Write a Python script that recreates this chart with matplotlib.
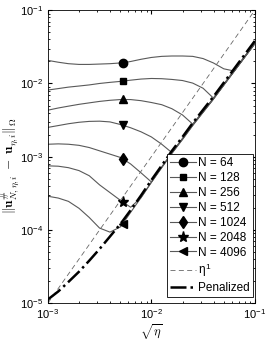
import numpy as np
import matplotlib
matplotlib.use('Agg')
import matplotlib.pyplot as plt

plt.rcParams['font.family'] = ['Liberation Sans', 'DejaVu Sans']
plt.rcParams['mathtext.fontset'] = 'cm'

# sqrt(eta) sample positions (log axis); index 8 is where the markers sit
sqrt_eta = [1.0e-3, 1.26e-3, 1.58e-3, 2.0e-3, 2.51e-3, 3.16e-3, 3.98e-3, 5.01e-3,
            5.27e-3, 6.31e-3, 7.94e-3, 1.0e-2, 1.26e-2, 1.58e-2, 2.0e-2, 2.51e-2,
            3.16e-2, 3.98e-2, 5.01e-2, 6.31e-2, 7.94e-2, 1.0e-1]
mark_idx = 8

# errors, stored as decade exponents (log10 of the error)
exp_64 = [-1.685, -1.71, -1.73, -1.74, -1.74, -1.735, -1.73, -1.72, -1.718, -1.70, -1.67,
          -1.645, -1.63, -1.625, -1.625, -1.63, -1.66, -1.72, -1.80, -1.83, -1.645, -1.455]
exp_128 = [-2.09, -2.07, -2.05, -2.035, -2.02, -2.00, -1.985, -1.972, -1.969, -1.955, -1.94,
           -1.932, -1.935, -1.945, -1.96, -1.995, -2.065, -2.20, -2.02, -1.83, -1.64, -1.45]
exp_256 = [-2.365, -2.335, -2.31, -2.285, -2.265, -2.245, -2.23, -2.22, -2.219, -2.22, -2.235,
           -2.26, -2.29, -2.345, -2.43, -2.555, -2.39, -2.21, -2.02, -1.835, -1.645, -1.46]
exp_512 = [-2.60, -2.575, -2.55, -2.53, -2.518, -2.515, -2.525, -2.56, -2.57, -2.605, -2.66,
           -2.73, -2.83, -2.945, -2.75, -2.56, -2.38, -2.20, -2.01, -1.82, -1.635, -1.45]
exp_1024 = [-2.83, -2.825, -2.83, -2.845, -2.875, -2.92, -2.965, -3.01, -3.027, -3.10, -3.22,
            -3.345, -3.14, -2.945, -2.755, -2.565, -2.385, -2.205, -2.015, -1.825, -1.635, -1.445]
exp_2048 = [-3.125, -3.13, -3.15, -3.19, -3.26, -3.385, -3.49, -3.595, -3.617, -3.69, -3.56,
            -3.35, -3.145, -2.95, -2.76, -2.57, -2.39, -2.21, -2.02, -1.83, -1.64, -1.45]
exp_4096 = [-3.54, -3.565, -3.61, -3.705, -3.83, -3.975, -4.03, -3.96, -3.92, -3.76, -3.56,
            -3.35, -3.15, -2.955, -2.765, -2.575, -2.395, -2.215, -2.025, -1.835, -1.645, -1.455]
exp_pen = [-4.95, -4.84, -4.71, -4.57, -4.42, -4.26, -4.09, -3.92, -3.88, -3.73, -3.53,
           -3.32, -3.12, -2.92, -2.73, -2.54, -2.36, -2.18, -1.99, -1.80, -1.61, -1.42]

n_labels = ['N = 64', 'N = 128', 'N = 256', 'N = 512', 'N = 1024', 'N = 2048', 'N = 4096']
n_exps = [exp_64, exp_128, exp_256, exp_512, exp_1024, exp_2048, exp_4096]
n_markers = ['o', 's', '^', 'v', 'd', '*', '<']
n_msize = [6, 5, 6, 6, 6, 8, 6]

# reference slope eta^1
x_eta = [1e-3, 1e-1]
y_eta = [1e-5, 1e-1]

fig = plt.figure(figsize=(2.66, 3.41), dpi=100)
ax = fig.add_axes([0.180, 0.111, 0.778, 0.859])

for e, lab, mk, ms in zip(n_exps, n_labels, n_markers, n_msize):
    ax.plot(sqrt_eta, 10.0 ** np.array(e), color='0.35', lw=0.8, marker=mk, markersize=ms,
            markerfacecolor='black', markeredgecolor='black',
            markevery=[mark_idx], label=lab)

ax.plot(x_eta, y_eta, color='0.4', lw=0.6, ls=(0, (6, 4)), label='η$^{\\mathdefault{1}}$')
ax.plot(sqrt_eta, 10.0 ** np.array(exp_pen), color='black', lw=1.8, ls='-.', label='Penalized')

ax.set_xscale('log')
ax.set_yscale('log')
ax.set_xlim(1e-3, 1e-1)
ax.set_ylim(1e-5, 1e-1)
ax.tick_params(which='both', direction='in', top=True, right=True, labelsize=8)
ax.tick_params(axis='x', pad=3)
ax.tick_params(which='major', length=3)
ax.tick_params(which='minor', length=1.5)
for s in ax.spines.values():
    s.set_linewidth(0.6)

ax.set_xlabel(r'$\sqrt{\eta}$', fontsize=9)
ax.xaxis.set_label_coords(0.5, -0.066)
ax.set_ylabel(r'$\| \mathbf{u}^{\#}_{N,\eta,i}\;-\;\mathbf{u}_{\eta,i}\|_{\Omega}$', fontsize=9.5)
ax.yaxis.set_label_coords(-0.132, 0.47)

leg = ax.legend(loc='lower right', bbox_to_anchor=(0.99, 0.02), fontsize=8.5,
                frameon=True, fancybox=False, edgecolor='black', framealpha=1,
                handlelength=2.2, handletextpad=0.2, labelspacing=0.25,
                borderpad=0.25, borderaxespad=0.0)
leg.get_frame().set_linewidth(0.6)

fig.savefig('out.png', dpi=100)
